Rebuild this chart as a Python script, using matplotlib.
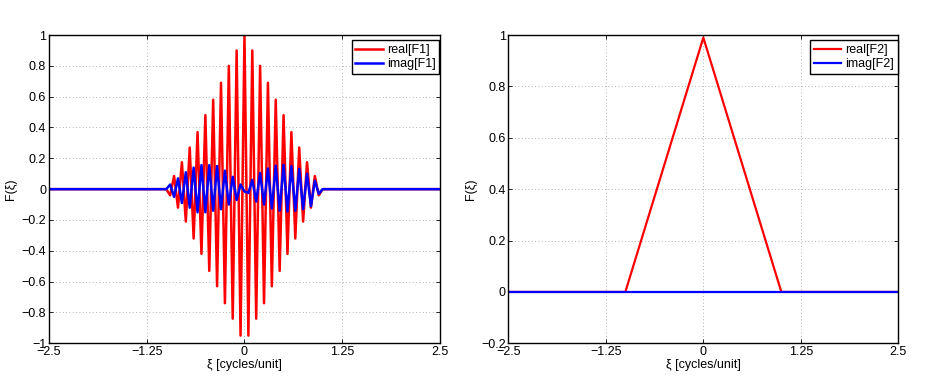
import matplotlib
matplotlib.use("Agg")
import matplotlib.pyplot as plt

plt.rcParams['font.family'] = ['Liberation Sans', 'DejaVu Sans']
plt.rcParams['font.size'] = 9

# F1 samples (xi step 0.05 inside [-1, 1])
xi1 = [-2.5, -1.0, -0.95, -0.9, -0.85, -0.8, -0.75, -0.7, -0.65, -0.6, -0.55,
       -0.5, -0.45, -0.4, -0.35, -0.3, -0.25, -0.2, -0.15, -0.1, -0.05, 0.0,
       0.05, 0.1, 0.15, 0.2, 0.25, 0.3, 0.35, 0.4, 0.45, 0.5, 0.55, 0.6,
       0.65, 0.7, 0.75, 0.8, 0.85, 0.9, 0.95, 1.0, 2.5]
real_f1 = [0.0, 0.0, -0.04, 0.085, -0.12, 0.175, -0.21, 0.27, -0.32, 0.37, -0.42,
           0.48, -0.53, 0.58, -0.63, 0.69, -0.74, 0.80, -0.84, 0.90, -0.95, 1.0,
           -0.95, 0.90, -0.84, 0.80, -0.74, 0.69, -0.63, 0.58, -0.53, 0.48, -0.42, 0.37,
           -0.32, 0.27, -0.21, 0.175, -0.12, 0.085, -0.04, 0.0, 0.0]
imag_f1 = [0.0, 0.0, 0.03, -0.05, 0.07, -0.09, 0.11, -0.12, 0.14, -0.15, 0.156,
           -0.15, 0.156, -0.14, 0.15, -0.13, 0.12, -0.10, 0.08, -0.07, 0.03, -0.015,
           -0.025, 0.06, -0.08, 0.105, -0.10, 0.134, -0.125, 0.152, -0.14, 0.158, -0.145, 0.15,
           -0.14, 0.132, -0.13, 0.10, -0.11, 0.055, -0.03, 0.0, 0.0]

# F2 samples
xi2 = [-2.5, -1.0, 0.0, 1.0, 2.5]
real_f2 = [0.0, 0.0, 0.99, 0.0, 0.0]
imag_f2 = [0.0, 0.0, 0.0, 0.0, 0.0]

xticks = [-2.5, -1.25, 0, 1.25, 2.5]
xticklabels = ['\u22122.5', '\u22121.25', '0', '1.25', '2.5']
yticks1 = [-1, -0.8, -0.6, -0.4, -0.2, 0, 0.2, 0.4, 0.6, 0.8, 1]
yticklabels1 = ['\u22121', '\u22120.8', '\u22120.6', '\u22120.4', '\u22120.2', '0',
                '0.2', '0.4', '0.6', '0.8', '1']
yticks2 = [-0.2, 0, 0.2, 0.4, 0.6, 0.8, 1]
yticklabels2 = ['\u22120.2', '0', '0.2', '0.4', '0.6', '0.8', '1']

fig = plt.figure(figsize=(9.29, 3.86), dpi=100)
ax1 = fig.add_axes([0.0527, 0.1106, 0.4209, 0.7987])
ax2 = fig.add_axes([0.5472, 0.1106, 0.4198, 0.7987])


def style(ax, yticks, yticklabels, ylim):
    ax.set_xlim(-2.5, 2.5)
    ax.set_ylim(*ylim)
    ax.set_xticks(xticks)
    ax.set_xticklabels(xticklabels)
    ax.set_yticks(yticks)
    ax.set_yticklabels(yticklabels)
    ax.tick_params(direction='in', top=True, right=True, length=3, width=0.6,
                   labelsize=9, pad=2)
    ax.grid(True, linestyle=(0, (1, 3)), color='#999999', linewidth=0.6)
    for s in ax.spines.values():
        s.set_linewidth(1.0)
    ax.set_xlabel('\u03be [cycles/unit]', fontsize=9, labelpad=1)
    ax.set_ylabel('F(\u03be)', fontsize=9, labelpad=3)
    leg = ax.legend(loc='upper right', bbox_to_anchor=(0.998, 0.983),
                    borderaxespad=0, fancybox=False, edgecolor='black',
                    framealpha=1, fontsize=9, handlelength=2.2,
                    handletextpad=0.3, labelspacing=0.15, borderpad=0.3)
    leg.get_frame().set_linewidth(1.0)


ax1.plot(xi1, real_f1, color='#ff0000', lw=1.8, label='real[F1]')
ax1.plot(xi1, imag_f1, color='#0000ff', lw=1.8, label='imag[F1]')
style(ax1, yticks1, yticklabels1, (-1, 1))

ax2.plot(xi2, real_f2, color='#ff0000', lw=1.6, label='real[F2]')
ax2.plot(xi2, imag_f2, color='#0000ff', lw=1.6, label='imag[F2]')
style(ax2, yticks2, yticklabels2, (-0.2, 1))

fig.savefig('out.png', dpi=100)
